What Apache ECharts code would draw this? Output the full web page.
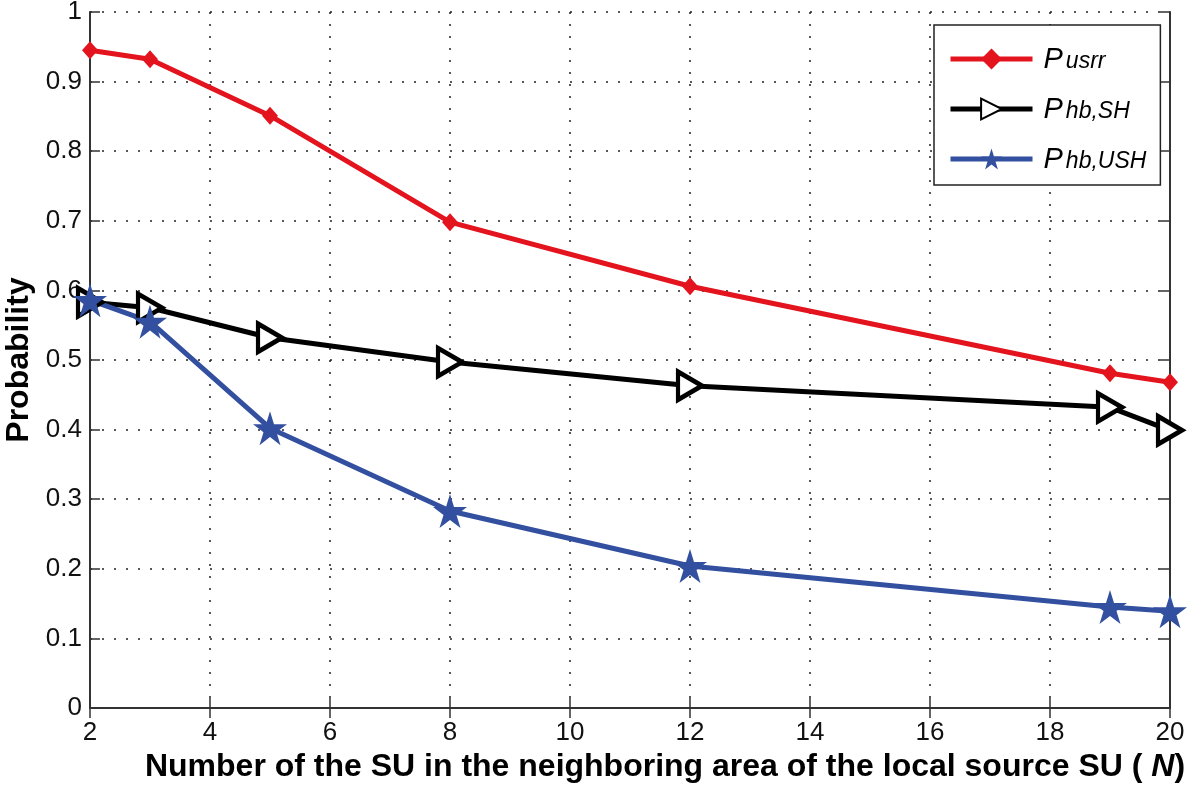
<!DOCTYPE html>
<html><head><meta charset="utf-8">
<script src="https://cdn.jsdelivr.net/npm/echarts@6/dist/echarts.min.js"></script>
<style>html,body{margin:0;padding:0;background:#fff}#c{width:1200px;height:789px}</style>
</head><body><div id="c"></div>
<script>
const xValues = [2, 3, 5, 8, 12, 19, 20];
const pUsrr = [0.945, 0.932, 0.851, 0.698, 0.606, 0.481, 0.468];
const pHbSH = [0.583, 0.575, 0.532, 0.497, 0.463, 0.432, 0.399];
const pHbUSH = [0.586, 0.555, 0.402, 0.283, 0.204, 0.145, 0.139];
const seriesNames = ['usrr', 'hb,SH', 'hb,USH'];

const FONT = 'Liberation Sans, Arial, sans-serif';
const star = 'path://M50,0 L61.8,36.2 L100,36.2 L69.1,58.6 L80.9,95.1 L50,72.4 L19.1,95.1 L30.9,58.6 L0,36.2 L38.2,36.2 Z';
const tri = 'path://M0,0 L17,10 L0,20 Z';

const chart = echarts.init(document.getElementById('c'));
const pair = (ys) => xValues.map((x, i) => [x, ys[i]]);
const AX = '#333';
const axisLine = {show: true, lineStyle: {color: AX, width: 2}};
const tick = {inside: true, length: 10, lineStyle: {color: AX, width: 1.5}};
chart.setOption({
  animation: false,
  textStyle: {fontFamily: FONT},
  grid: {left: 90, right: 30, top: 12, bottom: 81, outerBoundsMode: 'none', containLabel: false},
  legend: {
    orient: 'vertical', left: 934, top: 25,
    padding: [7, 14, 11, 14], itemGap: 8, itemWidth: 82, itemHeight: 26,
    borderColor: '#222', borderWidth: 1.5, backgroundColor: '#fff',
    lineStyle: {width: 5},
    formatter: (n) => '{p|P}{s|' + n + '}',
    textStyle: {
      rich: {
        p: {fontSize: 29, fontStyle: 'italic', color: '#000', fontFamily: FONT, lineHeight: 28, verticalAlign: 'top', padding: [0, 3, 0, 6]},
        s: {fontSize: 23, fontStyle: 'italic', color: '#000', fontFamily: FONT, lineHeight: 24, verticalAlign: 'bottom', padding: [18, 0, 0, 0]}
      }
    },
    data: seriesNames
  },
  xAxis: [{
    type: 'value', min: 2, max: 20, interval: 2,
    axisLine: axisLine, axisTick: tick,
    axisLabel: {fontSize: 26, color: '#111', margin: 12, fontFamily: FONT},
    splitLine: {show: true, lineStyle: {type: [2, 10], color: '#222', width: 1.5}},
    name: '{b|Number of the SU in the neighboring area of the local source SU ( }{i|N}{b|)}',
    nameLocation: 'middle', nameGap: 38,
    nameTextStyle: {padding: [0, 0, 0, 70], rich: {
      b: {fontSize: 32, fontWeight: 'bold', color: '#000', fontFamily: FONT},
      i: {fontSize: 32, fontWeight: 'bold', fontStyle: 'italic', color: '#000', fontFamily: FONT}
    }}
  }, {
    type: 'value', position: 'top', min: 2, max: 20, interval: 2,
    axisLine: axisLine, axisTick: tick,
    axisLabel: {show: false}, splitLine: {show: false}
  }],
  yAxis: [{
    type: 'value', min: 0, max: 1, interval: 0.1,
    axisLine: axisLine, axisTick: tick,
    axisLabel: {fontSize: 26, color: '#111', margin: 8, fontFamily: FONT,
      formatter: (v) => (Math.round(v * 10) / 10).toString()},
    splitLine: {show: true, lineStyle: {type: [2, 10], color: '#222', width: 1.5}},
    name: 'Probability', nameLocation: 'middle', nameGap: 55,
    nameTextStyle: {fontSize: 32, fontWeight: 'bold', color: '#000', fontFamily: FONT}
  }, {
    type: 'value', position: 'right', min: 0, max: 1, interval: 0.1,
    axisLine: axisLine, axisTick: tick,
    axisLabel: {show: false}, splitLine: {show: false}
  }],
  series: [{
    name: 'usrr', type: 'line', data: pair(pUsrr),
    lineStyle: {color: '#e3141e', width: 5},
    itemStyle: {color: '#e3141e'},
    symbol: 'diamond', symbolSize: [16, 18], showAllSymbol: true
  }, {
    name: 'hb,SH', type: 'line', data: pair(pHbSH),
    lineStyle: {color: '#000', width: 5},
    itemStyle: {color: '#fff', borderColor: '#000', borderWidth: 4.5},
    symbol: tri, symbolSize: [24, 28], showAllSymbol: true
  }, {
    name: 'hb,USH', type: 'line', data: pair(pHbUSH),
    lineStyle: {color: '#3350a0', width: 5},
    itemStyle: {color: '#3350a0'},
    symbol: star, symbolSize: 34, showAllSymbol: true
  }]
});
</script></body></html>
